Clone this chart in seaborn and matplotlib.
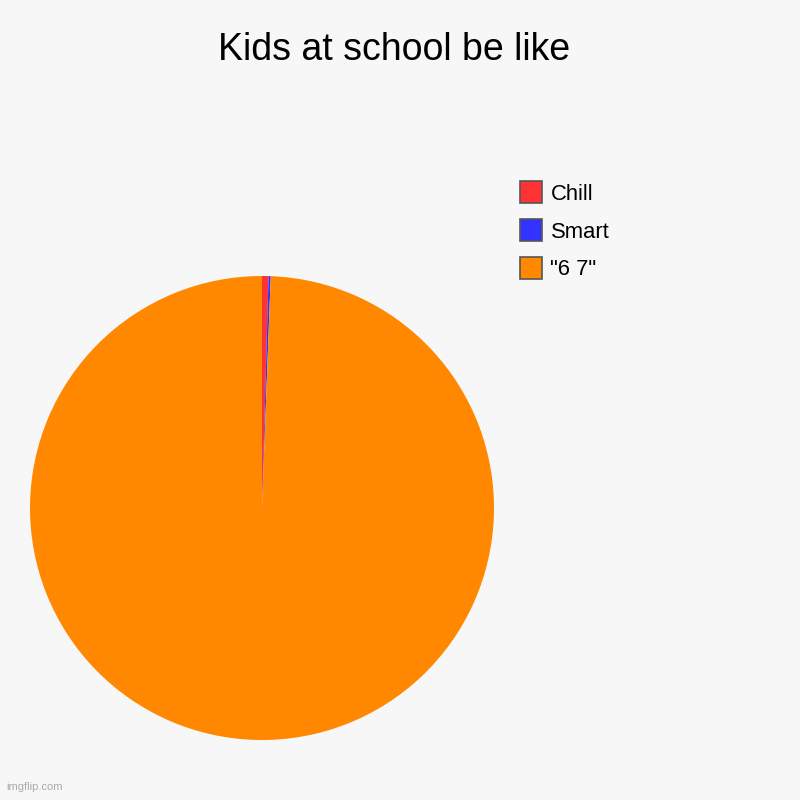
import matplotlib
matplotlib.use("Agg")
from matplotlib import pyplot as plt
from matplotlib.patches import Patch
import seaborn as sns

labels = ["Chill", "Smart", '"6 7"']
values = [0.45, 0.15, 99.4]
colors = ["#ff3333", "#3333ff", "#ff8800"]

sns.set_theme(style="white")
plt.rcParams['font.family'] = ['Liberation Sans', 'DejaVu Sans']

fig = plt.figure(figsize=(8, 8), dpi=100, facecolor="#f7f7f7")

# pie centred at (262, 508) px, radius 232 px
ax = fig.add_axes([30 / 800, 60 / 800, 464 / 800, 464 / 800])
ax.set_facecolor("#f7f7f7")
ax.pie(values, colors=colors, startangle=90, counterclock=False,
       radius=1.0, wedgeprops=dict(linewidth=0))
ax.set_xlim(-1, 1)
ax.set_ylim(-1, 1)
ax.set_aspect("equal")
ax.axis("off")

fig.text(0.493, 0.937, "Kids at school be like", ha="center", va="center",
         fontsize=27, color="black")

handles = [Patch(facecolor=c, edgecolor="#555555", linewidth=1.2) for c in colors]
fig.legend(handles, labels, loc="upper left", bbox_to_anchor=(0.636, 0.787),
           frameon=False, fontsize=15.8, labelcolor="black",
           handlelength=1.0, handleheight=1.15,
           handletextpad=0.4, labelspacing=0.66, borderpad=0)

fig.text(0.008, 0.012, "imgflip.com", fontsize=8, color="#aaaaaa")

fig.savefig("out.png", facecolor=fig.get_facecolor())
